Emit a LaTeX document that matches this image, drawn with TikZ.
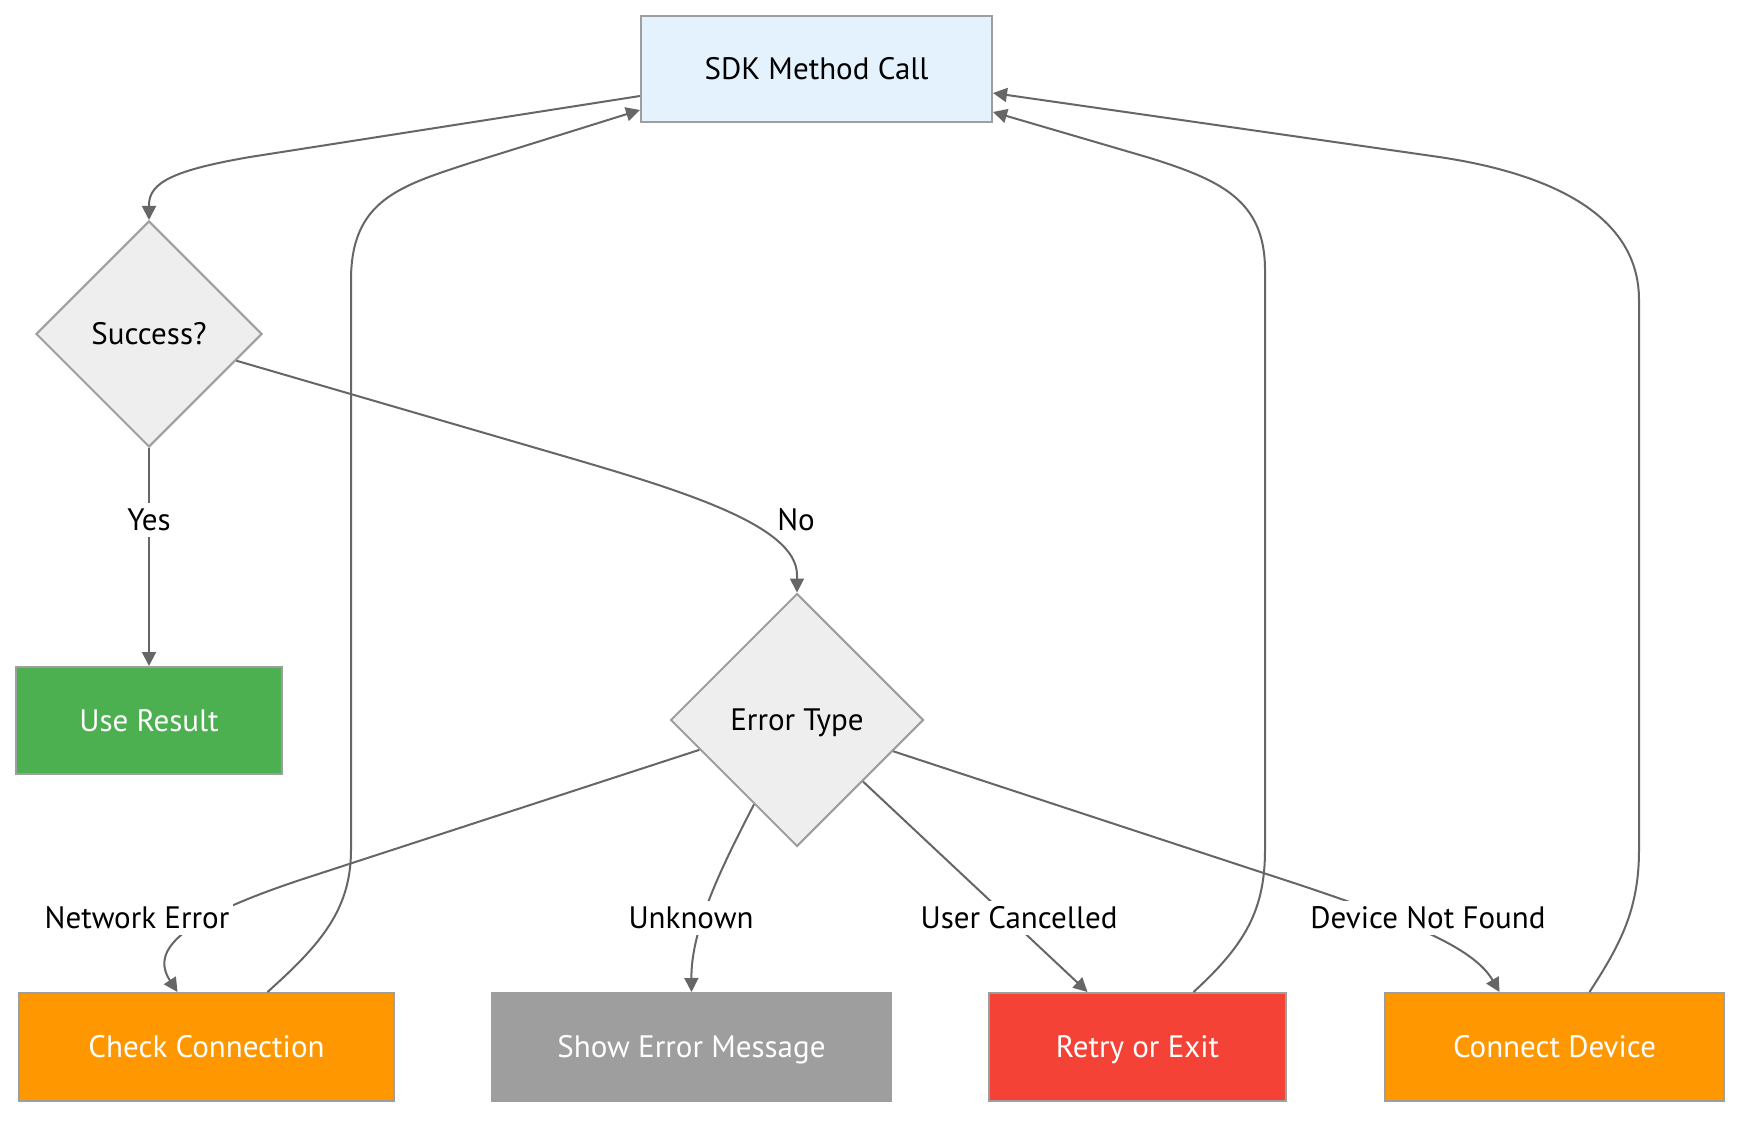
\documentclass[tikz,border=0pt]{standalone}
\usepackage{fontspec}
\setmainfont{PT Sans}
\usetikzlibrary{shapes.geometric,arrows.meta,calc}
\definecolor{sdkfill}{HTML}{E3F2FD}
\definecolor{dfill}{HTML}{EEEEEE}
\definecolor{bord}{HTML}{9E9E9E}
\definecolor{edgec}{HTML}{666666}
\definecolor{cgreen}{HTML}{4CAF50}
\definecolor{corange}{HTML}{FF9800}
\definecolor{cgrey}{HTML}{9E9E9E}
\definecolor{cred}{HTML}{F44336}
\begin{document}
\begin{tikzpicture}[x=0.5pt,y=-0.5pt,
  txt/.style={font=\fontsize{15.5}{18}\selectfont,text height=12pt,text depth=1.2pt},
  box/.style={txt,draw=bord,line width=1pt,rectangle,inner sep=0pt,minimum height=53.5pt},
  wbox/.style={box,text=white},
  dec/.style={txt,draw=bord,fill=dfill,line width=1pt,diamond,aspect=1,inner sep=0pt},
  conn/.style={draw=edgec,line width=1pt,-{Triangle[length=7pt,width=7pt]}},
  lbl/.style={txt,fill=white,inner sep=2pt}]
\useasboundingbox (0,0) rectangle (1756,1128);
\fill[white] (0,0) rectangle (1756,1128);
% nodes
\node[box,fill=sdkfill,minimum width=175.5pt,minimum height=53pt] (sdk) at (816.5,69) {SDK Method Call};
\node[dec,minimum size=113pt] (succ) at (149,334) {Success?};
\node[wbox,fill=cgreen,minimum width=133pt] (use) at (149,720.5) {Use Result};
\node[dec,minimum size=126.5pt] (err) at (797,720) {Error Type};
\node[wbox,fill=corange,minimum width=187.5pt,minimum height=54pt] (cc) at (206.5,1047) {Check Connection};
\node[wbox,fill=cgrey,minimum width=199.5pt,minimum height=54pt] (sem) at (691.5,1047) {Show Error Message};
\node[wbox,fill=cred,minimum width=148.5pt,minimum height=54pt] (retry) at (1137.5,1047) {Retry or Exit};
\node[wbox,fill=corange,minimum width=169.5pt,minimum height=54pt] (cd) at (1554.5,1047) {Connect Device};
% edges
\draw[conn] ($(sdk.west)+(0,27)$) -- (250,157) .. controls (175,170) and (149,182) .. (149,205) -- (succ.north);
\draw[conn] (succ.south) -- (use.north);
\node[lbl] (lyes) at (149,520) {Yes};
\draw[conn] (succ.-17) -- (560,455) .. controls (680,490) and (797,525) .. (797,575) -- (err.north);
\node[txt,inner sep=1.5pt] (lno) at (796,520) {No};
\draw[conn] (err.197) -- (300,880) .. controls (180,920) and (150,950) .. ($(cc.north)+(-29,0)$);
\node[lbl] (lnet) at (137,918) {Network Error};
\draw[conn] (err.-117) .. controls (720,870) and (691,930) .. (sem.north);
\node[lbl] (lunk) at (691,918) {Unknown};
\draw[conn] (err.-43) -- ($(retry.north)+(-50,0)$);
\node[lbl] (luser) at (1019,918) {User Cancelled};
\draw[conn] (err.-18) -- (1300,885) .. controls (1420,925) and (1475,950) .. ($(cd.north)+(-55,0)$);
\node[lbl] (ldev) at (1428,918) {Device Not Found};
% loops back
\draw[conn] ($(cc.north)+(61,0)$) .. controls (320,945) and (351,910) .. (351,850) -- (351,280)
  .. controls (351,200) and (400,186) .. (470,163) -- ($(sdk.west)+(0,41)$);
\draw[conn] ($(retry.north)+(56,0)$) .. controls (1245,945) and (1265,910) .. (1265,850) -- (1265,270)
  .. controls (1265,200) and (1220,180) .. (1150,158) -- ($(sdk.east)+(0,43)$);
\draw[conn] ($(cd.north)+(35,0)$) .. controls (1620,945) and (1639,910) .. (1639,850) -- (1639,300)
  .. controls (1639,210) and (1540,172) .. (1439,157) -- ($(sdk.east)+(0,24)$);
\end{tikzpicture}
\end{document}
